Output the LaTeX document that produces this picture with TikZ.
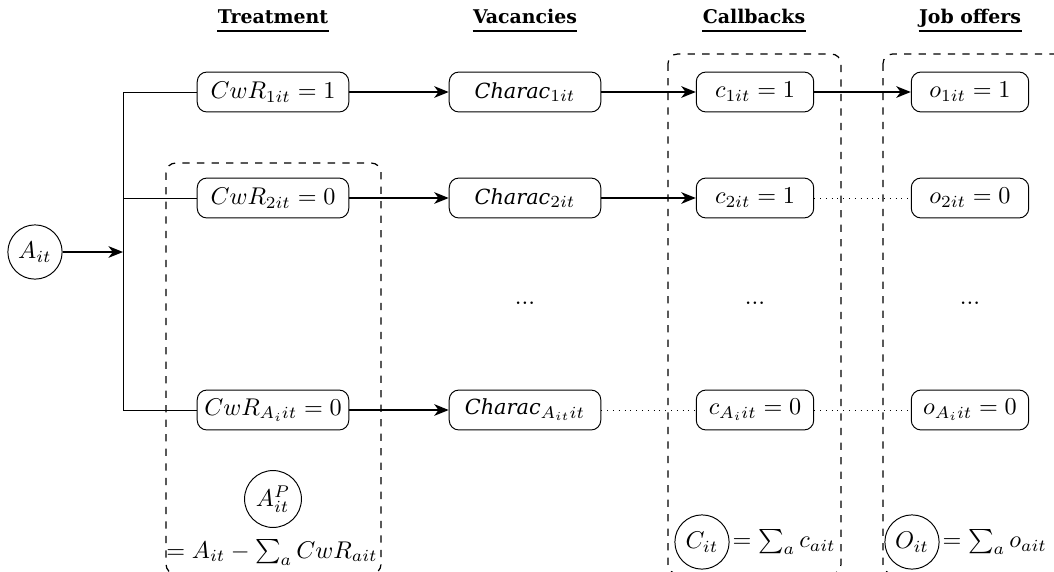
\documentclass[tikz,border=0pt]{standalone}
\usepackage{fontspec}
\usetikzlibrary{arrows.meta,calc}
\newfontfamily\hdfont{DejaVu Serif}
\newcommand\mycharac{{\hdfont\itshape\fontsize{8.6}{10}\selectfont Charac}}
\begin{document}
\begin{tikzpicture}[x=0.413pt,y=-0.413pt,
  box/.style={draw,rounded corners=4pt,minimum height=16.5pt,inner sep=1pt,line width=0.4pt},
  wbox/.style={box,minimum width=62.6pt},
  nbox/.style={box,minimum width=48.5pt},
  circ/.style={draw,circle,inner sep=0pt,minimum size=22.4pt,line width=0.4pt},
  hd/.style={font=\hdfont\bfseries\fontsize{7.8}{10}\selectfont,inner sep=0pt,anchor=base},
  arr/.style={-{Stealth[length=6pt,width=4.8pt,inset=1.8pt]},line width=0.6pt},
  dot/.style={dotted,line width=0.4pt},
  grp/.style={dashed,rounded corners=4pt,line width=0.5pt}]
\useasboundingbox (0,0) rectangle (1054,571);

% headers
\node[hd] (h1) at (273,23) {Treatment};
\node[hd] (h2) at (525,23) {Vacancies};
\node[hd] (h3) at (754,23) {Callbacks};
\node[hd] (h4) at (970,23) {Job offers};
\foreach \h in {h1,h2,h3,h4}
  \draw[line width=0.5pt] ([yshift=-3.3pt]\h.base west) -- ([yshift=-3.3pt]\h.base east);

% dashed groups
\draw[grp] (166,163) rectangle (381,574);
\draw[grp] (668,54) rectangle (841,574);
\draw[grp] (883,54) rectangle (1064,574);

% start
\node[circ] (A) at (35,252) {$A_{it}$};
\coordinate (split) at (123,252);

% row 1
\node[wbox] (t1) at (273,92) {$CwR_{1it} = 1$};
\node[wbox] (v1) at (525,92) {\mycharac$_{1it}$};
\node[nbox] (c1) at (755,92) {$c_{1it} = 1$};
\node[nbox] (o1) at (970,92) {$o_{1it} = 1$};
% row 2
\node[wbox] (t2) at (273,198) {$CwR_{2it} = 0$};
\node[wbox] (v2) at (525,198) {\mycharac$_{2it}$};
\node[nbox] (c2) at (755,198) {$c_{2it} = 1$};
\node[nbox] (o2) at (970,198) {$o_{2it} = 0$};
% dots
\node (dv) at (525,303) {...};
\node (dc) at (755,303) {...};
\node (do) at (970,303) {...};
% row 3
\node[wbox] (t3) at (273,410) {$CwR_{A_iit} = 0$};
\node[wbox] (v3) at (525,410) {\mycharac$_{A_{it}it}$};
\node[nbox] (c3) at (755,410) {$c_{A_iit} = 0$};
\node[nbox] (o3) at (970,410) {$o_{A_iit} = 0$};

% aggregates
\node[circ,minimum size=23.5pt] (AP) at (273,499) {$A^P_{it}$};
\node[anchor=base,inner sep=0pt] (APt) at (272,558) {$= A_{it} - \sum_a CwR_{ait}$};
\node[circ] (C) at (702,542) {$C_{it}$};
\node[anchor=west,inner sep=1pt] (Ct) at (C.east) {$= \sum_a c_{ait}$};
\node[circ] (O) at (912,542) {$O_{it}$};
\node[anchor=west,inner sep=1pt] (Ot) at (O.east) {$= \sum_a o_{ait}$};

% connectors
\draw[arr] (A) -- (split);
\draw[line width=0.4pt] (t1.west) -- (t1.west -| split) -- (t3.west -| split) -- (t3.west);
\draw[line width=0.4pt] (t2.west) -- (t2.west -| split);

\draw[arr] (t1) -- (v1);
\draw[arr] (v1) -- (c1);
\draw[arr] (c1) -- (o1);
\draw[arr] (t2) -- (v2);
\draw[arr] (v2) -- (c2);
\draw[dot] (c2) -- (o2);
\draw[arr] (t3) -- (v3);
\draw[dot] (v3) -- (c3);
\draw[dot] (c3) -- (o3);
\end{tikzpicture}
\end{document}
